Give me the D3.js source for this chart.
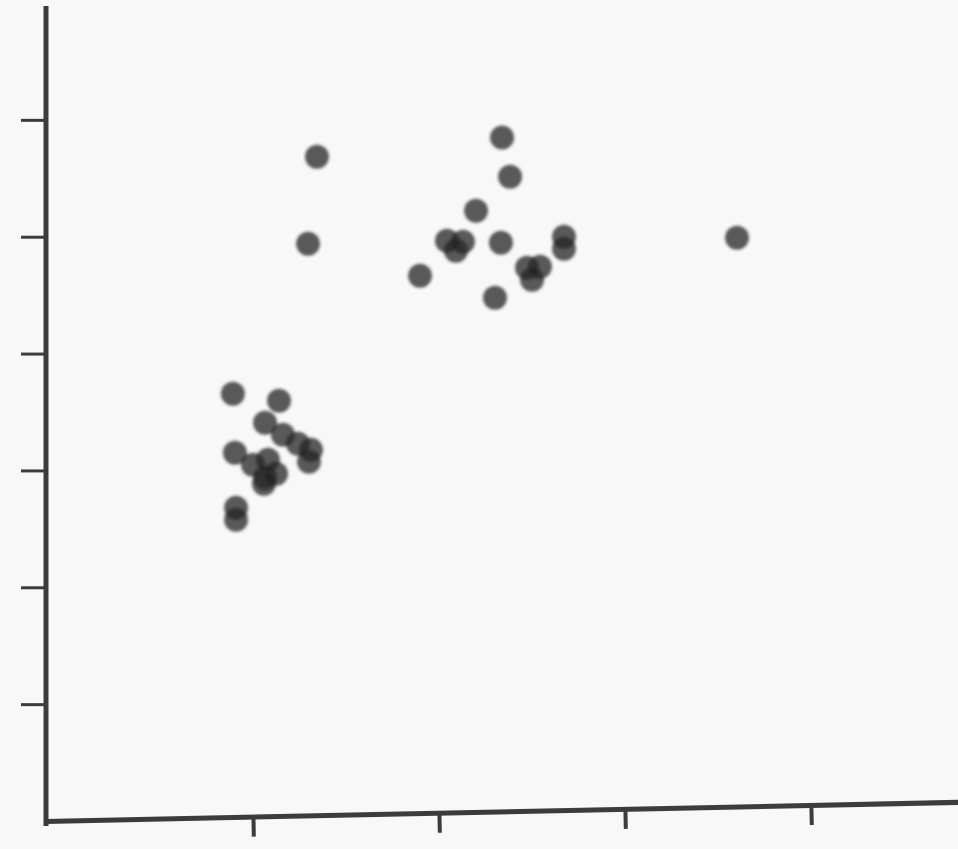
<!DOCTYPE html>
<html>
<head>
<meta charset="utf-8">
<script src="https://cdn.jsdelivr.net/npm/d3@7"></script>
<style>
  html, body { margin: 0; padding: 0; background: #f8f8f8; }
  svg { display: block; }
  .axis path, .axis line { stroke: #3c3c3c; }
</style>
</head>
<body>
<div id="chart"></div>
<script>

// values (no labels on the original)
var xTicks = [1, 2, 3, 4];
var yTicks = [1, 2, 3, 4, 5, 6];

// upper group
var xsUpper = [1.344, 1.296, 2.339, 2.382, 2.199, 2.043, 2.129, 2.091, 2.333, 2.672, 2.672,
               1.898, 2.473, 2.543, 2.500, 2.301, 3.602];
var ysUpper = [5.685, 4.940, 5.848, 5.514, 5.223, 4.966, 4.957, 4.880, 4.949, 5.000, 4.897,
               4.666, 4.735, 4.743, 4.632, 4.478, 4.991];

// lower group
var xsLower = [0.892, 1.140, 1.065, 1.161, 1.242, 1.312, 1.301, 0.903,
               1.000, 1.081, 1.065, 1.124, 1.059, 0.909, 0.909];
var ysLower = [3.656, 3.596, 3.408, 3.305, 3.228, 3.176, 3.074, 3.151,
               3.048, 3.091, 2.937, 2.971, 2.885, 2.680, 2.577];

var params = {
    width: 958,
    height: 849,
    x0: 45,
    y0: 821,
    r: 12
};

function plot_scatter() {

    var x = d3.scaleLinear().domain([-0.118, 4.79]).range([params.x0, params.width]);
    var y = d3.scaleLinear().domain([0, 7]).range([params.y0, 3]);

    var points = xsUpper.map(function(v, i) { return [v, ysUpper[i]]; })
        .concat(xsLower.map(function(v, i) { return [v, ysLower[i]]; }));

    var svg = d3.select("#chart")
                .append("svg")
                .attr("width", params.width)
                .attr("height", params.height);

    svg.append("rect")
        .attr("width", params.width)
        .attr("height", params.height)
        .attr("fill", "#f8f8f8");

    // soft edges like the scanned dots
    var defs = svg.append("defs");
    defs.append("filter")
        .attr("id", "soft")
        .attr("x", "-50%").attr("y", "-50%")
        .attr("width", "200%").attr("height", "200%")
        .append("feGaussianBlur")
        .attr("stdDeviation", 1.8);

    // dots
    svg.append("g")
        .attr("filter", "url(#soft)")
        .selectAll("circle")
        .data(points).enter()
        .append("circle")
            .attr("cx", function(d) { return x(d[0]); })
            .attr("cy", function(d) { return y(d[1]); })
            .attr("r", params.r)
            .attr("fill", "#222")
            .attr("fill-opacity", 0.74);

    // y axis, ticks only
    var y_axis = d3.axisLeft(y)
                   .tickValues(yTicks)
                   .tickFormat("")
                   .tickSize(25)
                   .tickSizeOuter(0);

    var gy = svg.append("g")
        .attr("class", "axis")
        .attr("transform", "translate(" + (params.x0 + 1) + ",0)")
        .call(y_axis);
    gy.select(".domain")
        .attr("stroke-width", 5)
        .attr("d", "M0," + (params.y0 + 5) + "V6");
    gy.selectAll(".tick line").attr("stroke-width", 3);

    // x axis, a little tilted as on the scan
    var x_axis = d3.axisBottom(x)
                   .tickValues(xTicks)
                   .tickFormat("")
                   .tickSize(20)
                   .tickSizeOuter(0);

    var gx = svg.append("g")
        .attr("class", "axis")
        .attr("transform", "rotate(-1.2," + params.x0 + "," + params.y0 + ") translate(0," + params.y0 + ")")
        .call(x_axis);
    gx.select(".domain").attr("stroke-width", 5);
    gx.selectAll(".tick line").attr("stroke-width", 4);
}

plot_scatter();
</script>
</body>
</html>
